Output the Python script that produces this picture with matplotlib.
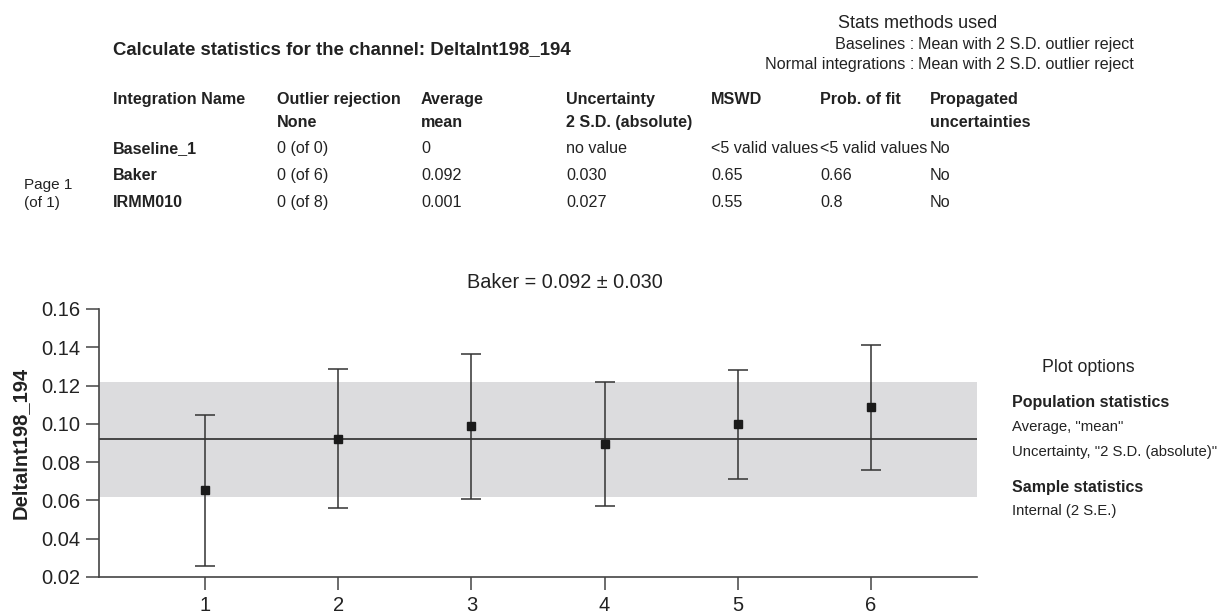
import numpy as np
import matplotlib.pyplot as plt

plt.rcParams['font.family'] = ['Liberation Sans', 'DejaVu Sans']

# データ
channel = "DeltaInt198_194"
headers1 = ["Integration Name", "Outlier rejection", "Average", "Uncertainty", "MSWD", "Prob. of fit", "Propagated"]
headers2 = ["", "None", "mean", "2 S.D. (absolute)", "", "", "uncertainties"]
rows = [
    ["Baseline_1", "0 (of 0)", "0", "no value", "<5 valid values", "<5 valid values", "No"],
    ["Baker", "0 (of 6)", "0.092", "0.030", "0.65", "0.66", "No"],
    ["IRMM010", "0 (of 8)", "0.001", "0.027", "0.55", "0.8", "No"],
]
sample = "Baker"
mean_val = 0.092
unc_val = 0.030
idx = [1, 2, 3, 4, 5, 6]
values = [0.0652, 0.0922, 0.0987, 0.0894, 0.0997, 0.1086]
errors = [0.0396, 0.0364, 0.0380, 0.0324, 0.0283, 0.0325]
yticks = [0.02, 0.04, 0.06, 0.08, 0.10, 0.12, 0.14, 0.16]

fig = plt.figure(figsize=(12.18, 6.15), dpi=100)
W, H = 1218, 615
TC = '#222222'


def fx(px):
    return px / W


def fy(py):
    return 1 - py / H


def txt(x, y, s, size, **kw):
    # y は文字の中心 (大文字の高さ基準) -> ベースラインに変換
    base = y + size * 100 / 72 * 0.72 / 2
    fig.text(fx(x), fy(base), s, fontsize=size, va='baseline', color=TC, **kw)


# 上部テキスト
txt(113, 47, "Calculate statistics for the channel: " + channel, 13.4, fontweight='bold')
txt(918, 22, "Stats methods used", 13, ha='center')
txt(914, 43, "Baselines :", 11.6, ha='right')
txt(918, 43, "Mean with 2 S.D. outlier reject", 11.6)
txt(914, 63, "Normal integrations :", 11.6, ha='right')
txt(918, 63, "Mean with 2 S.D. outlier reject", 11.6)

# 表
col_x = [113, 277, 421, 566, 711, 820, 930]
for cx, h1, h2 in zip(col_x, headers1, headers2):
    txt(cx, 98, h1, 11.6, fontweight='bold')
    if h2:
        txt(cx, 121, h2, 11.6, fontweight='bold')
row_y = [147, 174, 201]
for ry, row in zip(row_y, rows):
    for j, (cx, v) in enumerate(zip(col_x, row)):
        txt(cx, ry, v, 11.6, fontweight='bold' if j == 0 else 'normal')
txt(24, 184, "Page 1", 11)
txt(24, 202, "(of 1)", 11)

# プロット
ax = fig.add_axes([fx(99), fy(577), fx(977) - fx(99), fy(309) - fy(577)])
ax.axhspan(mean_val - unc_val, mean_val + unc_val, color='#dcdcde', lw=0, zorder=0)
ax.axhline(mean_val, color='#3a3a3a', lw=1.3, zorder=1)
ax.errorbar(idx, values, yerr=errors, fmt='s', color='#1a1a1a', ecolor='#333333',
            elinewidth=1.1, capsize=7, capthick=1.1, markersize=6, zorder=3)
ax.set_xlim(0.2, 6.8)
ax.set_ylim(0.02, 0.16)
ax.set_xticks(idx)
ax.set_yticks(yticks)
ax.set_yticklabels([f"{t:.2f}" for t in yticks])
for s in ['top', 'right']:
    ax.spines[s].set_visible(False)
for s in ['left', 'bottom']:
    ax.spines[s].set_color('#444444')
    ax.spines[s].set_linewidth(1.2)
ax.tick_params(axis='both', length=9.5, width=1.1, color='#444444', labelsize=14.5, labelcolor=TC)
ax.tick_params(axis='y', pad=4)
ax.tick_params(axis='x', pad=4)
ax.set_ylabel(channel, fontsize=14.5, fontweight='bold', color=TC, labelpad=8)
txt(565, 281, f"{sample} = {mean_val:.3f} ± {unc_val:.3f}", 14.3, ha='center')

# プロットオプション
txt(1088, 366, "Plot options", 12.8, ha='center')
txt(1012, 401, "Population statistics", 11.5, fontweight='bold')
txt(1012, 426, 'Average, "mean"', 10.7)
txt(1012, 451, 'Uncertainty, "2 S.D. (absolute)"', 10.7)
txt(1012, 486, "Sample statistics", 11.5, fontweight='bold')
txt(1012, 510, "Internal (2 S.E.)", 10.7)

fig.savefig("out.png", dpi=100)
